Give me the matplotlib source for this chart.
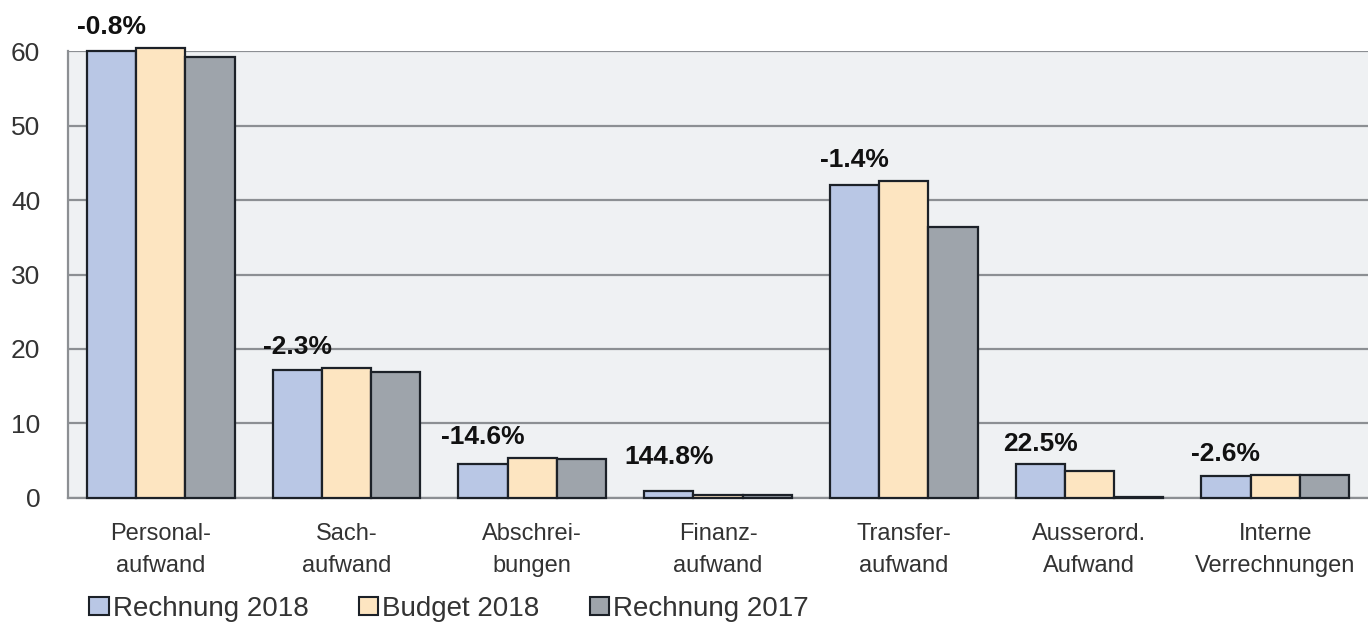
import numpy as np
import matplotlib
matplotlib.use("Agg")
import matplotlib.pyplot as plt
from matplotlib.patches import Patch

plt.rcParams["font.family"] = ["Liberation Sans", "DejaVu Sans"]

# Aufwand nach Sachgruppen (Mio. CHF)
kategorien = ["Personal-\naufwand", "Sach-\naufwand", "Abschrei-\nbungen", "Finanz-\naufwand",
              "Transfer-\naufwand", "Ausserord.\nAufwand", "Interne\nVerrechnungen"]
rechnung_2018 = [60.0, 17.2, 4.6, 0.9, 42.0, 4.5, 3.0]
budget_2018 = [60.4, 17.5, 5.4, 0.37, 42.6, 3.67, 3.08]
rechnung_2017 = [59.2, 16.9, 5.2, 0.4, 36.4, 0.1, 3.1]
abweichung = ["-0.8%", "-2.3%", "-14.6%", "144.8%", "-1.4%", "22.5%", "-2.6%"]

serien = ["Rechnung 2018", "Budget 2018", "Rechnung 2017"]
farben = ["#b9c7e5", "#fde5c1", "#9ea4ab"]
kante = "#1c2128"

fig = plt.figure(figsize=(13.68, 6.26), dpi=100)
ax = fig.add_axes([0.0497, 0.2045, 0.9503, 0.714])
ax.set_facecolor("#eff1f3")

x = np.arange(len(kategorien))
breite = 0.265
for i, (werte, farbe) in enumerate(zip([rechnung_2018, budget_2018, rechnung_2017], farben)):
    ax.bar(x + (i - 1) * breite, werte, breite, color=farbe, edgecolor=kante,
           linewidth=1.6, zorder=3, clip_on=False)

# Abweichung Rechnung vs. Budget über dem ersten Balken
spitze = np.maximum(np.max([rechnung_2018, budget_2018, rechnung_2017], axis=0), 2.7)
for xi, top, txt in zip(x, spitze, abweichung):
    ax.text(xi - breite, top + 1.2, txt, ha="center", va="bottom",
            fontsize=19, fontweight="bold", color="#111111")

ax.set_xlim(-0.5, len(kategorien) - 0.5)
ax.set_ylim(0, 60)
ax.set_yticks(range(0, 61, 10))
ax.yaxis.grid(True, color="#8c8f93", linewidth=1.6, zorder=1)
ax.set_axisbelow(True)
for s in ["top", "right"]:
    ax.spines[s].set_visible(False)
ax.spines["left"].set_color("#8c8f93")
ax.spines["left"].set_linewidth(1.6)
ax.spines["bottom"].set_color("#8c8f93")
ax.spines["bottom"].set_linewidth(1.6)
ax.tick_params(axis="y", length=0, pad=20, labelsize=19, labelcolor="#333333")
ax.tick_params(axis="x", length=0, pad=18, labelsize=17, labelcolor="#333333")
ax.set_xticks(x)
ax.set_xticklabels(kategorien, linespacing=1.6)

handles = [Patch(facecolor=f, edgecolor=kante, linewidth=1.5) for f in farben]
fig.legend(handles, serien, loc="lower left", bbox_to_anchor=(0.047, -0.033), ncol=3,
           frameon=False, fontsize=20, handlelength=0.7, handleheight=0.65,
           handletextpad=0.15, columnspacing=1.8, labelcolor="#333333")

fig.savefig("out.png", dpi=100)
